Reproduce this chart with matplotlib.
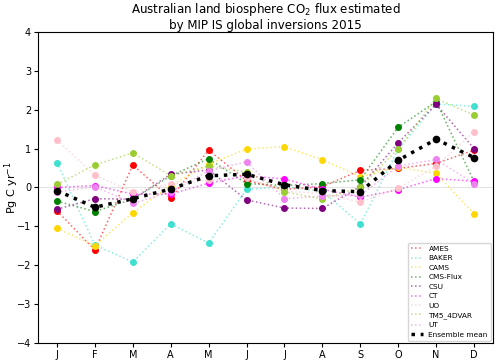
import matplotlib
matplotlib.use('Agg')
import matplotlib.pyplot as plt
import numpy as np

months = ['J', 'F', 'M', 'A', 'M', 'J', 'J', 'A', 'S', 'O', 'N', 'D']

# monthly flux per inversion model, Pg C / yr
ames = [-0.60, -1.61, 0.58, -0.28, 0.96, 0.18, -0.05, 0.02, 0.44, 0.49, 0.62, 0.96]
baker = [0.64, -1.48, -1.92, -0.94, -1.43, -0.05, 0.02, -0.10, -0.94, 0.98, 2.15, 2.09]
cams = [-1.05, -1.50, -0.65, 0.05, 0.60, 0.99, 1.05, 0.71, 0.28, 0.52, 0.36, -0.68]
cms_flux = [-0.35, -0.62, -0.30, 0.30, 0.74, 0.10, 0.05, 0.10, 0.20, 1.55, 2.21, 0.15]
csu = [-0.56, -0.29, -0.30, 0.34, 0.45, -0.32, -0.53, -0.54, 0.02, 1.15, 2.14, 1.00]
ct = [0.00, 0.05, -0.17, -0.17, 0.11, 0.30, 0.22, -0.05, -0.25, -0.06, 0.23, 0.16]
uo = [1.22, 0.31, -0.11, 0.09, 0.19, 0.25, -0.10, -0.15, -0.38, -0.02, 0.55, 1.43]
tm5_4dvar = [0.08, 0.58, 0.89, 0.30, 0.55, 0.40, -0.11, -0.30, 0.00, 1.00, 2.29, 1.86]
ut = [-0.12, 0.02, -0.41, -0.12, 0.43, 0.66, -0.29, -0.22, -0.20, 0.55, 0.72, 0.10]
ens_mean = [-0.08, -0.51, -0.29, -0.04, 0.30, 0.34, 0.07, -0.08, -0.11, 0.70, 1.24, 0.77]

models = [
    ('AMES', ames, 'red'),
    ('BAKER', baker, 'turquoise'),
    ('CAMS', cams, 'gold'),
    ('CMS-Flux', cms_flux, 'green'),
    ('CSU', csu, 'purple'),
    ('CT', ct, 'magenta'),
    ('UO', uo, 'pink'),
    ('TM5_4DVAR', tm5_4dvar, 'yellowgreen'),
    ('UT', ut, 'violet'),
]

fig = plt.figure(figsize=(5, 3.64), dpi=100)
ax = fig.add_axes([0.076, 0.058, 0.91, 0.854])
x = np.arange(len(months))

ax.axhline(0, color='lightgray', linewidth=0.8, alpha=0.6, zorder=0)

for name, vals, col in models:
    ax.plot(x, vals, linestyle=':', color=col, linewidth=1.1, alpha=0.6, label=name)
    ax.plot(x, vals, 'o', color=col, markersize=4, linestyle='none')

ax.plot(x, ens_mean, linestyle=':', color='black', linewidth=2.5, label='Ensemble mean')
ax.plot(x, ens_mean, 'o', color='black', markersize=4.5, linestyle='none')

ax.set_xlim(-0.5, 11.5)
ax.set_ylim(-4, 4)
ax.set_xticks(x)
ax.set_xticklabels(months, fontsize=7)
ax.set_yticks(range(-4, 5))
ax.tick_params(axis='both', labelsize=7, length=3, pad=2)
ax.set_ylabel('Pg C yr$^{-1}$', fontsize=8)
ax.yaxis.set_label_coords(-0.037, 0.5)
ax.set_title('Australian land biosphere CO$_2$ flux estimated\nby MIP IS global inversions 2015',
             fontsize=8.6, linespacing=1.1, pad=1.5)
ax.legend(loc='lower right', fontsize=5.3, handlelength=1.6, labelspacing=0.45,
          borderaxespad=0.3)

fig.savefig('out.png', dpi=100)
